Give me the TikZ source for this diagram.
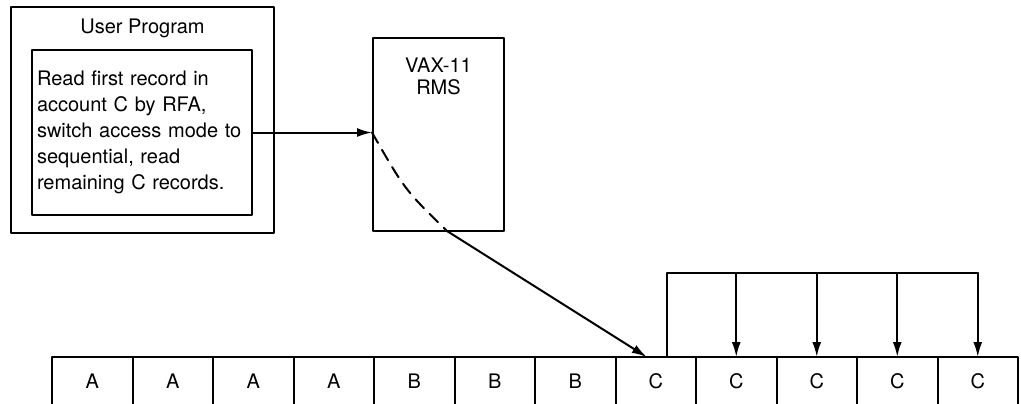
\documentclass[tikz,border=0pt]{standalone}
\usepackage{fontspec}
\setmainfont{TeX Gyre Heros}
\usetikzlibrary{arrows.meta}

\begin{document}
\begin{tikzpicture}[x=0.5pt,y=-0.5pt,line width=1pt,line cap=round,line join=round,
  >={Latex[length=7.5pt,width=4.5pt]},
  every node/.style={font=\fontsize{10pt}{13pt}\selectfont},
  box/.style={draw,inner sep=0pt},
  cell/.style={draw,anchor=north west,outer sep=0pt,inner sep=0pt,
    minimum width=40.25pt,text height=15.5pt,text depth=12.5pt}]
  \useasboundingbox (0,0) rectangle (1021,403);
  \clip (0,0) rectangle (1021,403);
  \node[box,minimum width=131.5pt,minimum height=113pt] (prog) at (142.5,120) {};
  \node (progname) at (142.5,28) {User Program};
  \node[box,minimum width=110pt,minimum height=82.5pt,align=left,text width=105pt]
    (task) at (142,132.5)
    {Read first record in\\account C by RFA,\\switch access mode to\\sequential, read\\remaining C records.};
  \node[box,minimum width=65.5pt,minimum height=96.5pt] (rms) at (438.5,134.5) {};
  \node[align=center,font=\fontsize{10pt}{11pt}\selectfont] (rmsname) at (438.5,76.5)
    {VAX-11\\RMS};
  \draw[->] (task.east) -- (task.east -| rms.west);
  \coordinate (cut) at (447,231);
  \draw[dash pattern=on 6pt off 4pt] (task.east -| rms.west) .. controls (405,190) .. (cut);
  \foreach \l [count=\i] in {A,A,A,A,B,B,B,C,C,C,C,C}
    \node[cell] (r\i) at ({52+80.5*(\i-1)},357) {\l};
  \draw[->] (cut) -- ([xshift=-4.5pt]r8.north);
  \coordinate (loop) at (667,273);
  \draw (r8.north -| loop) -- (loop) -- (loop -| r12.north);
  \foreach \i in {9,...,12}
    \draw[->] (loop -| r\i.north) -- (r\i.north);
\end{tikzpicture}
\end{document}
